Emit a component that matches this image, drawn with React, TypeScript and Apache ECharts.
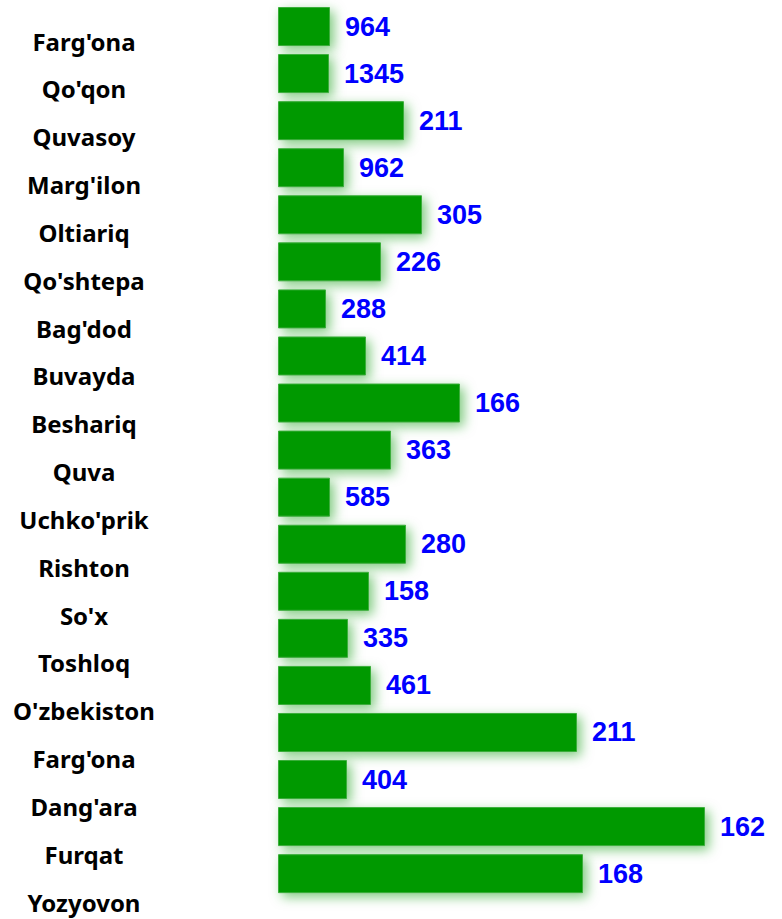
import React, { useEffect, useRef } from "react";
import * as echarts from "echarts";

const categories = [
  "Farg'ona", "Qo'qon", "Quvasoy", "Marg'ilon", "Oltiariq", "Qo'shtepa", "Bag'dod",
  "Buvayda", "Beshariq", "Quva", "Uchko'prik", "Rishton", "So'x", "Toshloq",
  "O'zbekiston", "Farg'ona", "Dang'ara", "Furqat", "Yozyovon",
];
const barValues = [
  5.2, 5.1, 12.6, 6.6, 14.4, 10.3, 4.8, 8.8, 18.2, 11.3, 5.2, 12.8, 9.1, 7.0, 9.3, 29.9, 6.9, 42.7, 30.5,
];
const labelValues = [
  964, 1345, 211, 962, 305, 226, 288, 414, 166, 363, 585, 280, 158, 335, 461, 211, 404, 162, 168,
];

export default function App() {
  const ref = useRef<HTMLDivElement>(null);
  useEffect(() => {
    if (!ref.current) return;
    const chart = echarts.init(ref.current, null, { renderer: "svg" });
    const barIdx = categories.map((_, i) => i);
    chart.setOption({
      animation: false,
      backgroundColor: "#ffffff",
      grid: [
        { left: 278, width: 500, top: 3, height: 894.2, outerBoundsMode: "none" },
        { left: 184, width: 100, top: 41, height: 861, outerBoundsMode: "none" },
      ],
      xAxis: [
        { gridIndex: 0, type: "value", min: 0, max: 50, show: false },
        { gridIndex: 1, type: "value", min: 0, max: 1, show: false },
      ],
      yAxis: [
        {
          gridIndex: 0,
          type: "category",
          inverse: true,
          data: barIdx.map(String),
          show: false,
        },
        {
          gridIndex: 1,
          type: "category",
          inverse: true,
          boundaryGap: false,
          data: categories,
          axisLine: { show: false },
          axisTick: { show: false },
          splitLine: { show: false },
          axisLabel: {
            margin: 100,
            align: "center",
            fontFamily: "Noto Sans",
            fontWeight: "bold",
            fontSize: 24,
            color: "#000000",
            interval: 0,
          },
        },
      ],
      series: [
        {
          type: "bar",
          xAxisIndex: 0,
          yAxisIndex: 0,
          data: barValues,
          barWidth: 39,
          itemStyle: {
            color: "#009900",
            borderColor: "#3aae3a",
            borderWidth: 1,
            shadowColor: "rgba(0,150,0,0.5)",
            shadowBlur: 12,
            shadowOffsetX: 4,
            shadowOffsetY: 4,
          },
          label: {
            show: true,
            position: "right",
            distance: 15,
            fontFamily: "Liberation Sans",
            fontWeight: "bold",
            fontSize: 27,
            color: "#0000ff",
            formatter: (p: any) => String(labelValues[p.dataIndex]),
          },
        },
      ],
    });
    return () => chart.dispose();
  }, []);
  return (
    <div
      ref={ref}
      style={{ position: "absolute", left: 0, top: 0, width: 782, height: 919 }}
    />
  );
}
